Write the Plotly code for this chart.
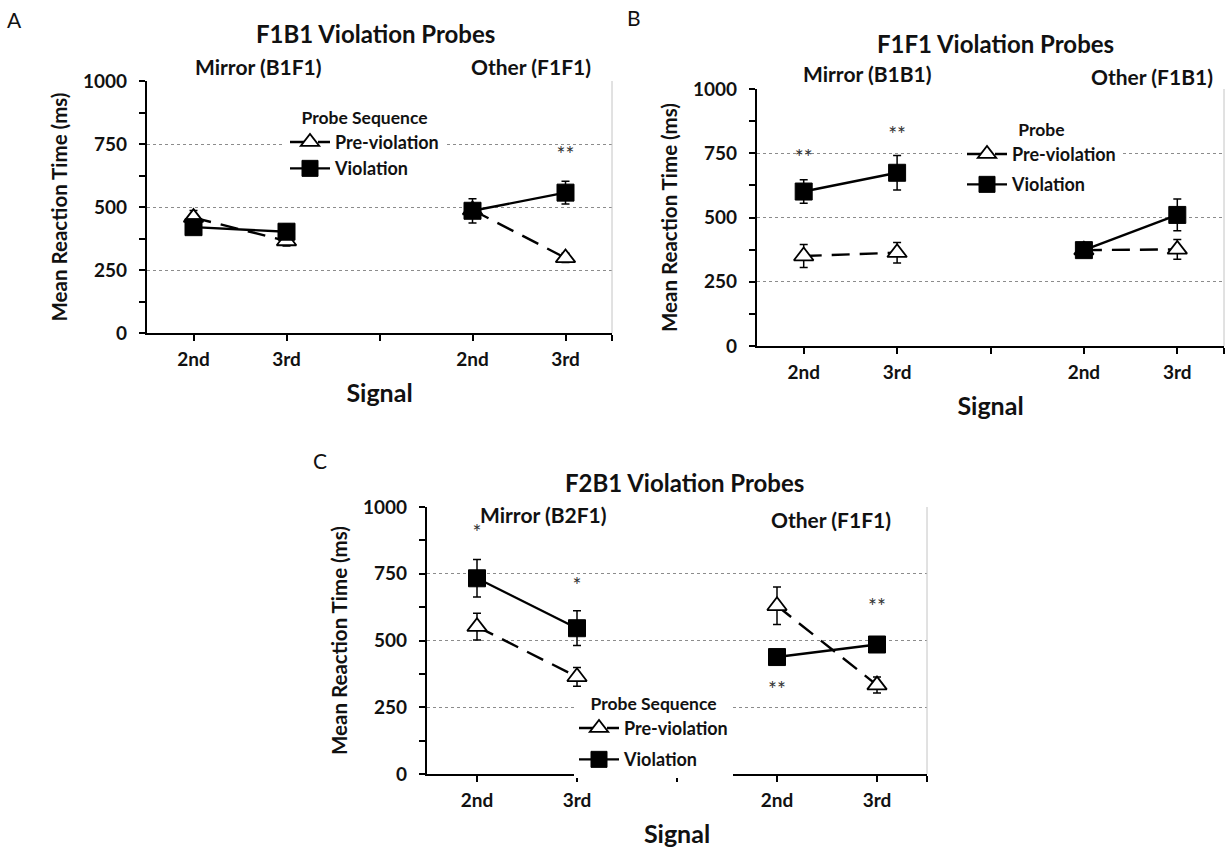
import plotly.graph_objects as go

# ---------------- data ----------------
positions = [1, 2, 3, 4, 5]
tick_labels = ["2nd", "3rd", "", "2nd", "3rd"]

# Panel A: F1B1 Violation Probes
a_pre = [458, 365, None, 488, 298]
a_pre_err = [28, 20, None, 20, 18]
a_viol = [420, 402, None, 485, 557]
a_viol_err = [22, 30, None, 48, 45]
a_star_text = ["", "", "", "", "**"]
a_star_y = [None, None, None, None, 700]

# Panel B: F1F1 Violation Probes
b_pre = [350, 363, None, 373, 376]
b_pre_err = [45, 40, None, 0, 38]
b_viol = [601, 674, None, 373, 510]
b_viol_err = [46, 67, None, 10, 62]
b_star_text = ["**", "**", "", "", ""]
b_star_y = [724, 816, None, None, None]

# Panel C: F2B1 Violation Probes
c_pre = [552, 364, None, 630, 333]
c_pre_err = [50, 35, None, 70, 30]
c_viol = [733, 546, None, 438, 485]
c_viol_err = [70, 65, None, 20, 20]
c_star_text = ["*", "*", "", "**", "**"]
c_star_y = [895, 696, None, 309, 619]

W, H = 1226, 855
FONT = "Lato"
TXT = "#111"


def px(x):
    return x / W


def py(y):
    return 1 - y / H


fig = go.Figure()

panels = [
    dict(key="", pre=a_pre, pre_err=a_pre_err, viol=a_viol, viol_err=a_viol_err,
         st=a_star_text, sy=a_star_y, legend="legend",
         xd=[px(147), px(612)], yd=[py(333), py(81)]),
    dict(key="2", pre=b_pre, pre_err=b_pre_err, viol=b_viol, viol_err=b_viol_err,
         st=b_star_text, sy=b_star_y, legend="legend2",
         xd=[px(757), px(1224)], yd=[py(346), py(89)]),
    dict(key="3", pre=c_pre, pre_err=c_pre_err, viol=c_viol, viol_err=c_viol_err,
         st=c_star_text, sy=c_star_y, legend="legend3",
         xd=[px(427), px(927)], yd=[py(774), py(507)]),
]

for p in panels:
    xa = "x" + p["key"]
    ya = "y" + p["key"]
    fig.add_trace(go.Scatter(
        x=positions, y=p["pre"], xaxis=xa, yaxis=ya, mode="lines+markers",
        name="Pre-violation", legend=p["legend"], legendgroup="pre" + p["key"],
        line=dict(color="black", width=2.4, dash="18px,10px"),
        marker=dict(symbol="triangle-up", size=17, color="white",
                    line=dict(color="black", width=1.8)),
        error_y=dict(type="data", array=p["pre_err"], color="black",
                     thickness=1.5, width=4),
        connectgaps=False,
    ))
    fig.add_trace(go.Scatter(
        x=positions, y=p["viol"], xaxis=xa, yaxis=ya, mode="lines+markers",
        name="Violation", legend=p["legend"], legendgroup="viol" + p["key"],
        line=dict(color="black", width=2.4),
        marker=dict(symbol="square", size=17, color="black",
                    line=dict(color="black", width=1)),
        error_y=dict(type="data", array=p["viol_err"], color="black",
                     thickness=1.5, width=4),
        connectgaps=False,
    ))
    fig.add_trace(go.Scatter(
        x=positions, y=p["sy"], text=p["st"], xaxis=xa, yaxis=ya, mode="text",
        textfont=dict(family=FONT, size=21, color="#333"), showlegend=False,
        hoverinfo="skip",
    ))

axis_common_x = dict(
    range=[0.5, 5.5], tickvals=positions + [5.5], ticktext=tick_labels + [""],
    ticks="outside", ticklen=6, tickwidth=1.5, tickcolor="black",
    ticklabelstandoff=2, automargin=False,
    showline=True, linecolor="black", linewidth=2.2, showgrid=False, zeroline=False,
    tickfont=dict(family=FONT, size=19, color=TXT, weight="bold"),
    title=dict(text="Signal", font=dict(family=FONT, size=25, color=TXT, weight="bold"),
               standoff=16),
)
axis_common_y = dict(
    range=[0, 1000], tickvals=[0, 250, 500, 750, 1000],
    ticks="outside", ticklen=6, tickwidth=1.5, tickcolor="black",
    ticklabelstandoff=8, automargin=False,
    minor=dict(tickvals=[125, 375, 625, 875], ticks="outside", ticklen=6,
               tickwidth=1.5, tickcolor="black", showgrid=False),
    showline=True, linecolor="black", linewidth=2.2,
    showgrid=True, gridcolor="#8c8c8c", griddash="dot", gridwidth=1.3, zeroline=False,
    tickfont=dict(family=FONT, size=19, color=TXT, weight="bold"),
    title=dict(text="Mean Reaction Time (ms)",
               font=dict(family=FONT, size=20.5, color=TXT, weight="bold"), standoff=10),
)

layout = dict(
    width=W, height=H, margin=dict(l=0, r=0, t=0, b=0, pad=0, autoexpand=False),
    paper_bgcolor="white", plot_bgcolor="white",
    font=dict(family=FONT, color=TXT),
    showlegend=True,
)
for p in panels:
    xk = "xaxis" + p["key"]
    yk = "yaxis" + p["key"]
    layout[xk] = dict(axis_common_x, domain=p["xd"], anchor="y" + p["key"])
    layout[yk] = dict(axis_common_y, domain=p["yd"], anchor="x" + p["key"])

legend_font = dict(family=FONT, size=18, color=TXT, weight="bold")
title_font = dict(family=FONT, size=17.5, color=TXT, weight="bold")
legend_common = dict(
    bgcolor="white", borderwidth=0, xanchor="left", yanchor="top",
    font=legend_font, traceorder="grouped", itemwidth=40,
)
layout["legend"] = dict(legend_common, x=px(285), y=py(101), tracegroupgap=0,
                        title=dict(text="Probe Sequence", side="top center", font=title_font))
layout["legend2"] = dict(legend_common, x=px(962), y=py(113), tracegroupgap=4,
                         title=dict(text="Probe", side="top center", font=title_font))
layout["legend3"] = dict(legend_common, x=px(574), y=py(687), tracegroupgap=5,
                         title=dict(text="Probe Sequence", side="top center", font=title_font))
fig.update_layout(**layout)

# thin right border of each plot area
for p in panels:
    fig.add_shape(type="line", xref="x" + p["key"] + " domain", yref="y" + p["key"] + " domain",
                  x0=1, x1=1, y0=0, y1=1, line=dict(color="#c4c4c4", width=1))

# panel letters, titles and group labels
texts = [
    ("A", 5, 19, 21, "normal", "left"),
    ("F1B1 Violation Probes", 375, 33, 24, "bold", "center"),
    ("Mirror (B1F1)", 258, 66, 21, "bold", "center"),
    ("Other (F1F1)", 531, 66, 21, "bold", "center"),
    ("B", 625, 18, 21, "normal", "left"),
    ("F1F1 Violation Probes", 995, 43, 24, "bold", "center"),
    ("Mirror (B1B1)", 867, 73, 21, "bold", "center"),
    ("Other (F1B1)", 1152, 77, 21, "bold", "center"),
    ("C", 311, 460, 21, "normal", "left"),
    ("F2B1 Violation Probes", 685, 482, 24, "bold", "center"),
    ("Mirror (B2F1)", 543, 514, 21, "bold", "center"),
    ("Other (F1F1)", 831, 519, 21, "bold", "center"),
]
for t, x, y, s, wgt, anc in texts:
    fig.add_annotation(text=t, x=px(x), y=py(y), xref="paper", yref="paper",
                       xanchor=anc, yanchor="middle", showarrow=False,
                       font=dict(family=FONT, size=s, color=TXT, weight=wgt))

# the page's default 8px body margin would shift the figure; remove it
fig.write_html("out.html", config={"displayModeBar": False},
               post_script="document.body.style.margin='0px';")
